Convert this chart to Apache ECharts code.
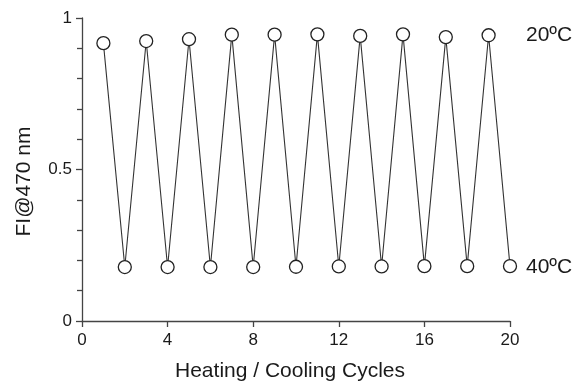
<!DOCTYPE html>
<html>
<head>
<meta charset="utf-8">
<script src="https://cdn.jsdelivr.net/npm/echarts@6/dist/echarts.min.js"></script>
<style>
  html, body { margin: 0; padding: 0; background: #fff; }
  #chart { width: 574px; height: 382px; }
</style>
</head>
<body>
<div id="chart"></div>
<script>
// Heating / cooling cycles and the fluorescence intensity at 470 nm
const cycles = [1, 2, 3, 4, 5, 6, 7, 8, 9, 10, 11, 12, 13, 14, 15, 16, 17, 18, 19, 20];
const intensity = [0.917, 0.178, 0.924, 0.178, 0.930, 0.178, 0.945, 0.178, 0.945, 0.179,
                   0.946, 0.180, 0.941, 0.180, 0.946, 0.181, 0.937, 0.181, 0.943, 0.181];
// Temperature labels shown to the right of the plot
const tempLabels = ['20ºC', '40ºC'];
const tempLevels = [0.943, 0.179];
const xTicks = [0, 4, 8, 12, 16, 20];
const yTicks = [0, 0.5, 1];

const font = '"Liberation Sans", Arial, sans-serif';
const ink = '#1a1a1a';

const chart = echarts.init(document.getElementById('chart'), null, { renderer: 'canvas' });

chart.setOption({
  animation: false,
  backgroundColor: '#fff',
  grid: { left: 82, right: 64, top: 18, bottom: 61, containLabel: false, outerBoundsMode: 'none' },
  xAxis: {
    type: 'value',
    min: xTicks[0],
    max: xTicks[xTicks.length - 1],
    interval: xTicks[1] - xTicks[0],
    name: 'Heating / Cooling Cycles',
    nameLocation: 'middle',
    nameGap: 40,
    nameTextStyle: { fontFamily: font, fontSize: 21, color: ink, padding: [0, 12, 0, 0] },
    axisLine: { show: true, lineStyle: { color: '#444', width: 1.3 } },
    axisTick: { show: true, length: 6, lineStyle: { color: '#444', width: 1.3 } },
    axisLabel: { fontFamily: font, fontSize: 17, color: ink, margin: 11 },
    splitLine: { show: false }
  },
  yAxis: {
    type: 'value',
    min: yTicks[0],
    max: yTicks[yTicks.length - 1],
    interval: yTicks[1] - yTicks[0],
    name: 'FI@470 nm',
    nameLocation: 'middle',
    nameGap: 47,
    nameRotate: 90,
    nameTextStyle: { fontFamily: font, fontSize: 21, color: ink, padding: [0, 24, 0, 0] },
    axisLine: { show: true, lineStyle: { color: '#444', width: 1.3 } },
    axisTick: { show: true, length: 6, lineStyle: { color: '#444', width: 1.3 } },
    minorTick: { show: true, splitNumber: 5, length: 5, lineStyle: { color: '#444', width: 1.3 } },
    axisLabel: { fontFamily: font, fontSize: 17, color: ink, margin: 10 },
    splitLine: { show: false },
    minorSplitLine: { show: false }
  },
  series: [
    {
      type: 'line',
      data: cycles.map((c, i) => [c, intensity[i]]),
      symbol: 'circle',
      symbolSize: 13,
      showAllSymbol: true,
      lineStyle: { color: '#333', width: 1.1 },
      itemStyle: { color: '#fff', borderColor: '#222', borderWidth: 1.3 },
      z: 3
    },
    {
      type: 'scatter',
      symbolSize: 0,
      itemStyle: { opacity: 1, color: ink },
      data: tempLabels.map((t, i) => ({ value: [cycles[cycles.length - 1], tempLevels[i]], name: t })),
      label: {
        show: true,
        position: 'right',
        distance: 16,
        formatter: p => p.name,
        fontFamily: font,
        fontSize: 21,
        color: ink,
        opacity: 1
      },
      silent: true,
      z: 2
    }
  ]
});
</script>
</body>
</html>
